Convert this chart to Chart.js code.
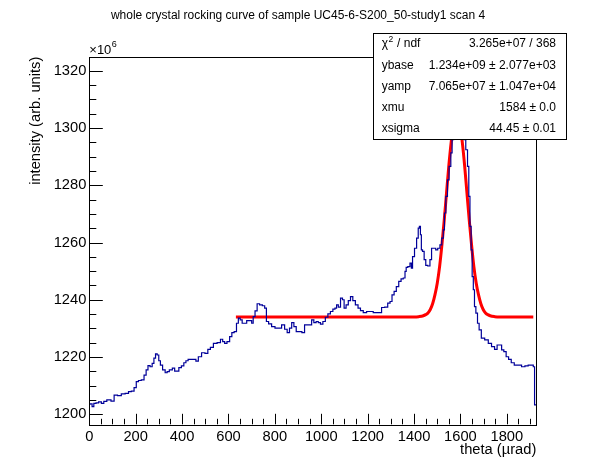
<!DOCTYPE html>
<html>
<head>
<meta charset="utf-8">
<script src="https://cdn.jsdelivr.net/npm/chart.js@4.4.0/dist/chart.umd.min.js"></script>
<style>
  html, body { margin: 0; padding: 0; background: #ffffff; }
  #wrap { width: 596px; height: 472px; }
</style>
</head>
<body>
<div id="wrap"><canvas id="chart" width="596" height="472"></canvas></div>
<script>
// Histogram: theta (µrad) and intensity (x10^6)
const thetaValues = [
    0, 8, 16, 23, 35, 45, 59, 66, 85, 102, 112, 131, 145, 164, 174, 188, 198, 207, 217, 231,
    241, 249, 257, 267, 275, 282, 289, 296, 303, 310, 322, 332, 339, 351, 365, 371, 382, 390, 404, 411,
    422, 430, 456, 463, 477, 491, 506, 516, 528, 542, 560, 571, 579, 588, 599, 611, 618, 631, 638, 647,
    654, 664, 674, 683, 697, 703, 710, 719, 728, 740, 752, 760, 767, 779, 793, 808, 822, 836, 848, 858,
    868, 877, 887, 897, 911, 922, 934, 954, 963, 973, 983, 991, 1002, 1012, 1023, 1034, 1045, 1055, 1063, 1069,
    1078, 1088, 1095, 1102, 1112, 1121, 1131, 1141, 1153, 1164, 1174, 1188, 1203, 1217, 1231, 1253, 1267, 1280, 1293, 1300,
    1310, 1318, 1329, 1339, 1349, 1358, 1364, 1368, 1378, 1387, 1390, 1397, 1407, 1415, 1421, 1425, 1430, 1433, 1440, 1447,
    1454, 1464, 1473, 1478, 1490, 1497, 1507, 1516, 1523, 1529, 1533, 1541, 1547, 1555, 1562, 1566, 1575, 1584, 1595, 1605,
    1613, 1619, 1627, 1634, 1638, 1644, 1648, 1653, 1658, 1663, 1670, 1677, 1684, 1696, 1713, 1727, 1741, 1753, 1763, 1773,
    1782, 1792, 1802, 1813, 1825, 1839, 1856, 1871, 1885, 1899, 1911, 1917, 1922, 1927
];
const intensityValues = [
    1203.5, 1203.6, 1202.7, 1203.8, 1204.0, 1204.3, 1203.8, 1204.5, 1205.0, 1204.6, 1206.7, 1206.5, 1207.1, 1207.3, 1207.9, 1208.1, 1209.3, 1211.4, 1211.8, 1212.0,
    1213.7, 1215.5, 1217.0, 1216.6, 1217.8, 1219.6, 1221.1, 1220.7, 1218.7, 1217.2, 1215.5, 1214.5, 1214.9, 1215.5, 1216.1, 1215.1, 1215.1, 1216.3, 1216.9, 1218.0,
    1218.7, 1219.2, 1219.2, 1218.6, 1220.1, 1221.5, 1221.3, 1222.7, 1223.4, 1224.8, 1225.0, 1226.2, 1225.4, 1224.8, 1225.4, 1227.1, 1228.5, 1228.9, 1231.8, 1233.6,
    1233.0, 1231.8, 1231.8, 1232.7, 1232.7, 1231.8, 1234.1, 1236.1, 1238.6, 1238.2, 1237.9, 1237.1, 1232.4, 1231.6, 1230.6, 1230.1, 1230.1, 1231.2, 1229.7, 1228.5,
    1230.1, 1232.0, 1230.6, 1228.9, 1228.9, 1228.5, 1231.2, 1231.2, 1233.0, 1232.0, 1232.4, 1232.0, 1231.5, 1232.4, 1233.9, 1235.1, 1235.9, 1236.7, 1237.1, 1238.2,
    1237.4, 1240.6, 1240.0, 1237.1, 1238.2, 1239.7, 1241.1, 1239.7, 1238.2, 1237.1, 1236.2, 1235.5, 1235.9, 1235.9, 1235.5, 1235.5, 1237.3, 1237.4, 1238.8, 1239.4,
    1241.7, 1242.9, 1244.6, 1246.4, 1247.3, 1247.6, 1249.9, 1251.3, 1251.6, 1252.8, 1251.0, 1255.1, 1258.0, 1261.5, 1265.0, 1265.6, 1262.7, 1257.4, 1256.9, 1254.0,
    1252.0, 1251.8, 1254.0, 1258.0, 1258.0, 1257.4, 1258.0, 1259.2, 1261.5, 1264.4, 1270.3, 1276.1, 1281.9, 1286.6, 1291.3, 1295.9, 1302.0, 1305.0, 1305.0, 1302.0,
    1299.0, 1295.9, 1292.4, 1286.6, 1276.1, 1265.6, 1257.4, 1248.1, 1243.5, 1237.6, 1235.3, 1231.8, 1229.5, 1226.6, 1226.0, 1224.8, 1223.6, 1222.7, 1224.2, 1224.2,
    1222.5, 1221.9, 1220.1, 1219.2, 1218.0, 1217.2, 1217.2, 1216.6, 1216.9, 1217.2, 1217.2, 1216.6, 1203.3, 1203.3
];

// Fit curve
const fitTheta = [
    632, 1400, 1420, 1440, 1450, 1460, 1470, 1480, 1490, 1500, 1510, 1520, 1530, 1540, 1550, 1560, 1570, 1584,
    1598, 1608, 1618, 1628, 1638, 1648, 1658, 1668, 1678, 1688, 1698, 1708, 1718, 1728, 1748, 1768, 1914
];
const fitValues = [
    1234.0, 1234.0, 1234.1, 1234.4, 1234.8, 1235.4, 1236.6, 1238.6, 1241.7, 1245.8, 1251.5, 1259.1, 1267.7, 1277.3, 1286.9, 1295.0, 1301.1, 1304.6,
    1301.1, 1295.0, 1286.9, 1277.3, 1267.7, 1259.1, 1251.5, 1245.8, 1241.7, 1238.6, 1236.6, 1235.4, 1234.8, 1234.4, 1234.1, 1234.0, 1234.0
];

const xTickValues = [0, 200, 400, 600, 800, 1000, 1200, 1400, 1600, 1800];
const yTickValues = [1200, 1220, 1240, 1260, 1280, 1300, 1320];
const xMinorStep = 50;
const yMinorStep = 5;

const statsLabels = ['χ', 'ybase', 'yamp', 'xmu', 'xsigma'];
const statsTexts = ['3.265e+07 / 368', '1.234e+09 ± 2.077e+03', '7.065e+07 ± 1.047e+04', '1584 ± 0.0', '44.45 ± 0.01'];

const FONT = '"Liberation Sans", Arial, Helvetica, sans-serif';

/**
 * ROOT-like frame: box, inside ticks, titles and the fit statistics box
 */
const rootFramePlugin = {
    id: 'rootFrame',
    afterDraw: function(chart) {
        const ctx = chart.ctx;
        const area = chart.chartArea;
        const xs = chart.scales.x;
        const ys = chart.scales.y;

        ctx.save();
        ctx.strokeStyle = '#000000';
        ctx.lineWidth = 1;

        // frame
        ctx.strokeRect(Math.round(area.left) + 0.5, Math.round(area.top) + 0.5,
            Math.round(area.right - area.left), Math.round(area.bottom - area.top));

        // x ticks pointing up into the plot
        ctx.beginPath();
        for (let v = xs.min; v <= xs.max; v += xMinorStep) {
            const px = Math.round(xs.getPixelForValue(v)) + 0.5;
            const len = (v % 200 === 0) ? 10.5 : 5.5;
            ctx.moveTo(px, area.bottom);
            ctx.lineTo(px, area.bottom - len);
        }
        // y ticks pointing right into the plot
        const yStart = Math.ceil(ys.min / yMinorStep) * yMinorStep;
        for (let v = yStart; v <= ys.max; v += yMinorStep) {
            const py = Math.round(ys.getPixelForValue(v)) + 0.5;
            const len = (v % 20 === 0) ? 13.5 : 7;
            ctx.moveTo(area.left, py);
            ctx.lineTo(area.left + len, py);
        }
        ctx.stroke();

        ctx.fillStyle = '#000000';

        // main title
        ctx.font = '12px ' + FONT;
        ctx.textAlign = 'center';
        ctx.textBaseline = 'middle';
        ctx.fillText('whole crystal rocking curve of sample UC45-6-S200_50-study1 scan 4', 298, 16);

        // x axis title
        ctx.font = '14.7px ' + FONT;
        ctx.textAlign = 'right';
        ctx.textBaseline = 'alphabetic';
        ctx.fillText('theta (\u00b5rad)', area.right, 454);

        // y axis title
        ctx.save();
        ctx.translate(36, area.top);
        ctx.rotate(-Math.PI / 2);
        ctx.textAlign = 'right';
        ctx.textBaseline = 'middle';
        ctx.fillText('intensity (arb. units)', 0, 0);
        ctx.restore();

        // exponent
        ctx.font = '13px ' + FONT;
        ctx.textAlign = 'left';
        ctx.textBaseline = 'alphabetic';
        ctx.fillText('\u00d710', area.left, 53.5);
        const expW = ctx.measureText('\u00d710').width;
        ctx.font = '9px ' + FONT;
        ctx.fillText('6', area.left + expW + 0.5, 47);

        // stats box
        const bx = 373.5, by = 33.5, bw = 193, bh = 106;
        ctx.fillStyle = '#ffffff';
        ctx.fillRect(bx, by, bw, bh);
        ctx.strokeRect(bx, by, bw, bh);
        ctx.fillStyle = '#000000';
        ctx.font = '12px ' + FONT;
        ctx.textBaseline = 'middle';
        statsLabels.forEach((label, i) => {
            const ty = 44 + i * 21.2;
            ctx.textAlign = 'left';
            ctx.fillText(label, 381.7, ty);
            if (i === 0) {
                const w = ctx.measureText(label).width;
                ctx.font = '8.5px ' + FONT;
                ctx.fillText('2', 381.7 + w + 0.5, ty - 4);
                const w2 = ctx.measureText('2').width;
                ctx.font = '12px ' + FONT;
                ctx.fillText(' / ndf', 381.7 + w + w2 + 1, ty);
            }
            ctx.textAlign = 'right';
            ctx.fillText(statsTexts[i], 556, ty);
        });

        ctx.restore();
    }
};

const histData = thetaValues.map((t, i) => ({ x: t, y: intensityValues[i] }));
const fitData = fitTheta.map((t, i) => ({ x: t, y: fitValues[i] }));

new Chart(document.getElementById('chart').getContext('2d'), {
    type: 'line',
    data: {
        datasets: [
            {
                label: 'data',
                data: histData,
                borderColor: '#000099',
                borderWidth: 1.2,
                pointRadius: 0,
                stepped: 'middle',
                fill: false
            },
            {
                label: 'fit',
                data: fitData,
                borderColor: '#ff0000',
                borderWidth: 3,
                pointRadius: 0,
                tension: 0.3,
                cubicInterpolationMode: 'monotone',
                fill: false
            }
        ]
    },
    options: {
        responsive: false,
        animation: false,
        events: [],
        layout: { padding: { top: 56.7, right: 59.7, left: 0, bottom: 0 } },
        plugins: {
            legend: { display: false },
            tooltip: { enabled: false },
            title: { display: false }
        },
        scales: {
            x: {
                type: 'linear',
                min: 0,
                max: 1927,
                grid: { display: false, drawTicks: false },
                border: { display: false },
                afterBuildTicks: s => { s.ticks = xTickValues.map(v => ({ value: v })); },
                afterFit: s => { s.height = 47.7; },
                ticks: {
                    color: '#000000',
                    font: { family: FONT, size: 14.7 },
                    padding: 4,
                    maxRotation: 0,
                    autoSkip: false,
                    callback: v => String(v)
                }
            },
            y: {
                type: 'linear',
                min: 1196.5,
                max: 1324.9,
                grid: { display: false, drawTicks: false },
                border: { display: false },
                afterBuildTicks: s => { s.ticks = yTickValues.map(v => ({ value: v })); },
                afterFit: s => { s.width = 89.3; },
                ticks: {
                    color: '#000000',
                    font: { family: FONT, size: 14.7 },
                    padding: 3,
                    autoSkip: false,
                    callback: v => String(v)
                }
            }
        }
    },
    plugins: [rootFramePlugin]
});
</script>
</body>
</html>
